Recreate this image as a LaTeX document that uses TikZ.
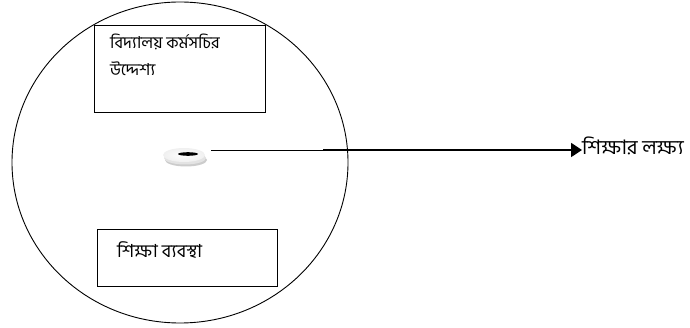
\documentclass[tikz,border=0pt]{standalone}
\usepackage{fontspec}
\newfontfamily\bn[Script=Bengali]{Hind Siliguri}
\usetikzlibrary{arrows.meta,shapes.geometric}
\tikzset{
  boxrect/.style={draw=black, line width=1.3pt, rectangle, inner sep=0pt, anchor=north west},
  bntext/.style={font=\bn\fontsize{16.5}{18}\selectfont, inner sep=0pt, anchor=base west},
}
\begin{document}
\begin{tikzpicture}[x=1pt,y=-1pt]
\useasboundingbox (0,0) rectangle (690,328);
% big circle
\draw[line width=0.9pt] (180,162.5) ellipse [x radius=168, y radius=160.5];
% top box
\node[boxrect, minimum width=171pt, minimum height=87pt] (topbox) at (94,25) {};
\node[bntext] (t1) at (110,49) {বিদ্যালয় কর্মসচির};
\node[bntext] (t2) at (110,76) {উদ্দেশ্য};
% bottom box
\node[boxrect, minimum width=180pt, minimum height=57pt] (botbox) at (97,229) {};
\node[bntext, font=\bn\fontsize{18}{20}\selectfont] (b1) at (117,258) {শিক্ষা ব্যবস্থা};
% washer
\fill[gray!40] (186,160) ellipse [x radius=21, y radius=6.5];
\fill[gray!22] (185,158) ellipse [x radius=21, y radius=6.5];
\shade[inner color=white, outer color=gray!12] (184,155) ellipse [x radius=21, y radius=7];
\node[ellipse, minimum width=42pt, minimum height=14pt, inner sep=0pt] (washer) at (184,155) {};
\fill[black] (188,154) ellipse [x radius=10, y radius=1.8];
% goal text
\node[bntext, font=\bn\fontsize{20}{22}\selectfont] (goal) at (582,155) {শিক্ষার লক্ষ্য};
\coordinate (mid) at (323,150);
\coordinate (wout) at (211,150);
\draw[line width=0.8pt] (wout) -- (mid);
\draw[line width=1.8pt, -{Triangle[length=11pt,width=14pt]}] (mid) -- (goal.west |- mid);
\end{tikzpicture}
\end{document}
